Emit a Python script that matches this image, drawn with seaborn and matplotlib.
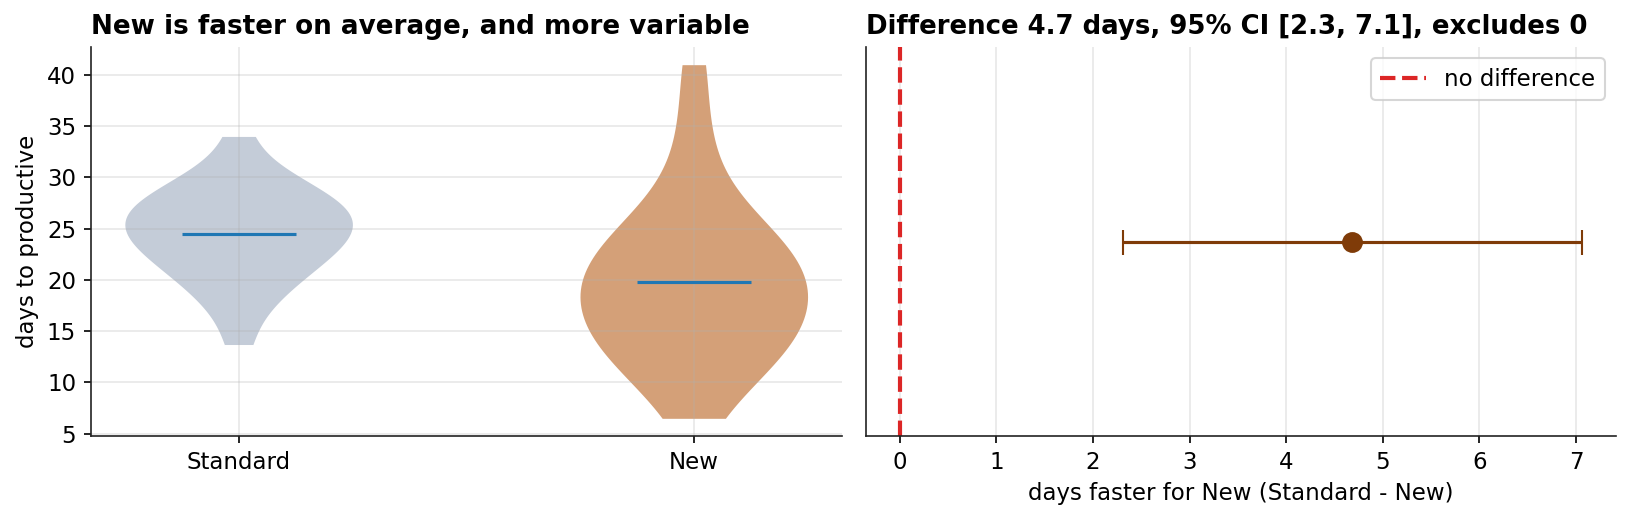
import numpy as np
import pandas as pd
import matplotlib
matplotlib.use("Agg")
import matplotlib.pyplot as plt
import seaborn as sns

# ---- data ----
methods = ["Standard", "New"]
standard_days = [13.7, 17.2, 18.4, 19.7, 20.6, 21.3, 21.9, 22.5, 23.0, 23.5,
                 23.9, 24.5, 25.0, 25.4, 25.8, 26.0, 26.5, 26.9, 27.4, 27.8,
                 28.4, 29.0, 29.7, 30.6, 34.0]
new_days = [6.5, 10.1, 10.9, 12.0, 12.9, 13.8, 14.6, 15.3, 16.1, 16.8, 17.5,
            18.3, 19.0, 19.7, 20.5, 21.2, 22.1, 22.8, 23.2, 24.0, 25.3,
            26.9, 29.8, 34.6, 41.0]
diff_estimate = 4.68
diff_ci = [2.31, 7.06]
violin_colors = ["#c4ccd8", "#d4a078"]
mean_color = "#1f77b4"
point_color = "#7f3b08"
ref_color = "#dc2626"

df = pd.DataFrame({
    "method": ["Standard"] * len(standard_days) + ["New"] * len(new_days),
    "days": standard_days + new_days,
})

plt.rcParams.update({
    "font.family": ["DejaVu Sans"],
    "font.size": 11,
    "axes.axisbelow": "line",
    "axes.edgecolor": "#222222",
})

fig = plt.figure(figsize=(16.3 / 1.5, 5.2 / 1.5), dpi=150)
ax1 = fig.add_axes([90.7 / 1630, 1 - 436 / 520, (841.7 - 90.7) / 1630, (436 - 47) / 520])
ax2 = fig.add_axes([865.7 / 1630, 1 - 436 / 520, (1616 - 865.7) / 1630, (436 - 47) / 520])

# ---- left: violins ----
sns.violinplot(data=df, x="method", y="days", order=methods, hue="method",
               hue_order=methods, palette=violin_colors, legend=False,
               cut=0, inner=None, density_norm="width", width=0.5,
               linewidth=0, saturation=1, ax=ax1)
for i, m in enumerate(methods):
    vals = df.loc[df["method"] == m, "days"]
    ax1.hlines(vals.mean(), i - 0.125, i + 0.125, color=mean_color, lw=1.5, zorder=3)

ax1.set_xlim(-0.325, 1.325)
ax1.set_ylim(4.775, 42.725)
ax1.set_yticks([5, 10, 15, 20, 25, 30, 35, 40])
ax1.grid(True, color="#b0b0b0", alpha=0.3, lw=0.8)
ax1.set_xlabel("")
ax1.set_ylabel("days to productive")
ax1.set_title("New is faster on average, and more variable", loc="left",
              fontweight="bold", fontsize=12.6)
for s in ["top", "right"]:
    ax1.spines[s].set_visible(False)

# ---- right: difference with CI ----
ax2.axvline(0, color=ref_color, ls="--", lw=2, label="no difference", zorder=2)
ax2.errorbar([diff_estimate], [0],
             xerr=[[diff_estimate - diff_ci[0]], [diff_ci[1] - diff_estimate]],
             fmt="o", color=point_color, ms=9, elinewidth=1.5, capsize=6, zorder=3)
ax2.set_xlim(-0.353, 7.413)
ax2.set_ylim(-1, 1)
ax2.set_yticks([])
ax2.set_xticks(range(0, 8))
ax2.grid(True, axis="x", color="#b0b0b0", alpha=0.3, lw=0.8)
ax2.set_xlabel("days faster for New (Standard - New)")
ax2.set_title(f"Difference {diff_estimate:.1f} days, 95% CI [{diff_ci[0]:.1f}, {diff_ci[1]:.1f}], excludes 0",
              loc="left", fontweight="bold", fontsize=12.5)
ax2.legend(loc="upper right")
for s in ["top", "right"]:
    ax2.spines[s].set_visible(False)

fig.savefig("out.png", dpi=150)
